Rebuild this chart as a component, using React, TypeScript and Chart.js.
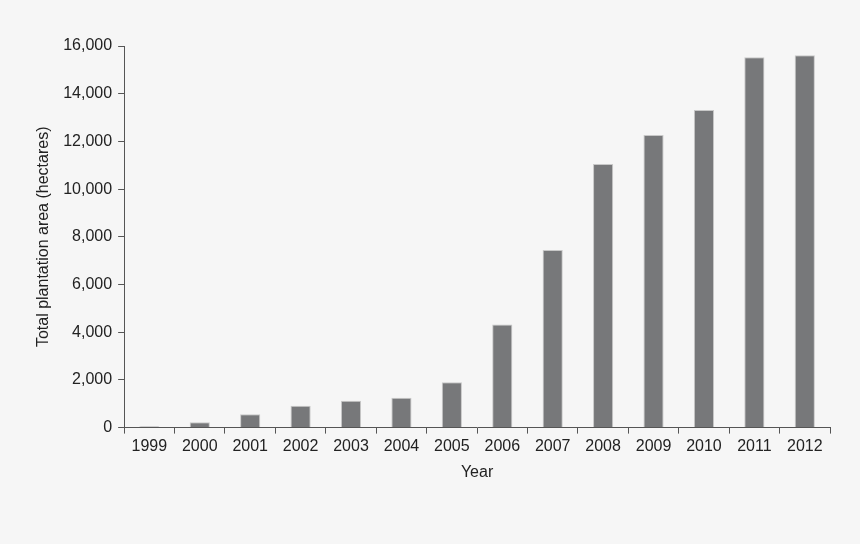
import React, { useEffect, useRef } from "react";
import { Chart, registerables } from "chart.js";

Chart.register(...registerables);

const years = ["1999", "2000", "2001", "2002", "2003", "2004", "2005", "2006", "2007", "2008", "2009", "2010", "2011", "2012"];
const area = [60, 220, 560, 920, 1130, 1250, 1900, 4320, 7450, 11050, 12270, 13320, 15530, 15610];

const FONT = "'Liberation Sans', Arial, Helvetica, sans-serif";
const AXIS = "#555555";
const TEXT = "#222222";

const App: React.FC = () => {
  const canvasRef = useRef<HTMLCanvasElement>(null);

  useEffect(() => {
    if (!canvasRef.current) return;
    const chart = new Chart(canvasRef.current, {
      type: "bar",
      data: {
        labels: years,
        datasets: [
          {
            data: area,
            backgroundColor: "#77787a",
            borderColor: "#c8c8c8",
            borderWidth: 1,
            barPercentage: 0.4,
            categoryPercentage: 1,
          },
        ],
      },
      options: {
        animation: false,
        responsive: false,
        layout: { padding: { left: 30, right: 30, top: 46, bottom: 58 } },
        plugins: { legend: { display: false }, tooltip: { enabled: false } },
        scales: {
          x: {
            grid: { drawOnChartArea: false, offset: true, tickLength: 6, color: AXIS },
            border: { color: AXIS, width: 1 },
            ticks: { color: TEXT, font: { family: FONT, size: 16 }, padding: 3 },
            title: { display: true, text: "Year", color: TEXT, font: { family: FONT, size: 16 }, padding: { top: 4 } },
          },
          y: {
            min: 0,
            max: 16000,
            grid: { drawOnChartArea: false, tickLength: 6, color: AXIS },
            border: { color: AXIS, width: 1 },
            ticks: {
              stepSize: 2000,
              color: TEXT,
              font: { family: FONT, size: 16 },
              padding: 6,
              callback: (v) => Number(v).toLocaleString("en-US"),
            },
            title: {
              display: true,
              text: "Total plantation area (hectares)",
              color: TEXT,
              font: { family: FONT, size: 16 },
              padding: { bottom: 4 },
            },
          },
        },
      },
    });
    return () => chart.destroy();
  }, []);

  return (
    <div style={{ position: "fixed", left: 0, top: 0, width: 860, height: 544, background: "#f6f6f6" }}>
      <canvas ref={canvasRef} width={860} height={544} style={{ display: "block" }} />
    </div>
  );
};

export default App;
